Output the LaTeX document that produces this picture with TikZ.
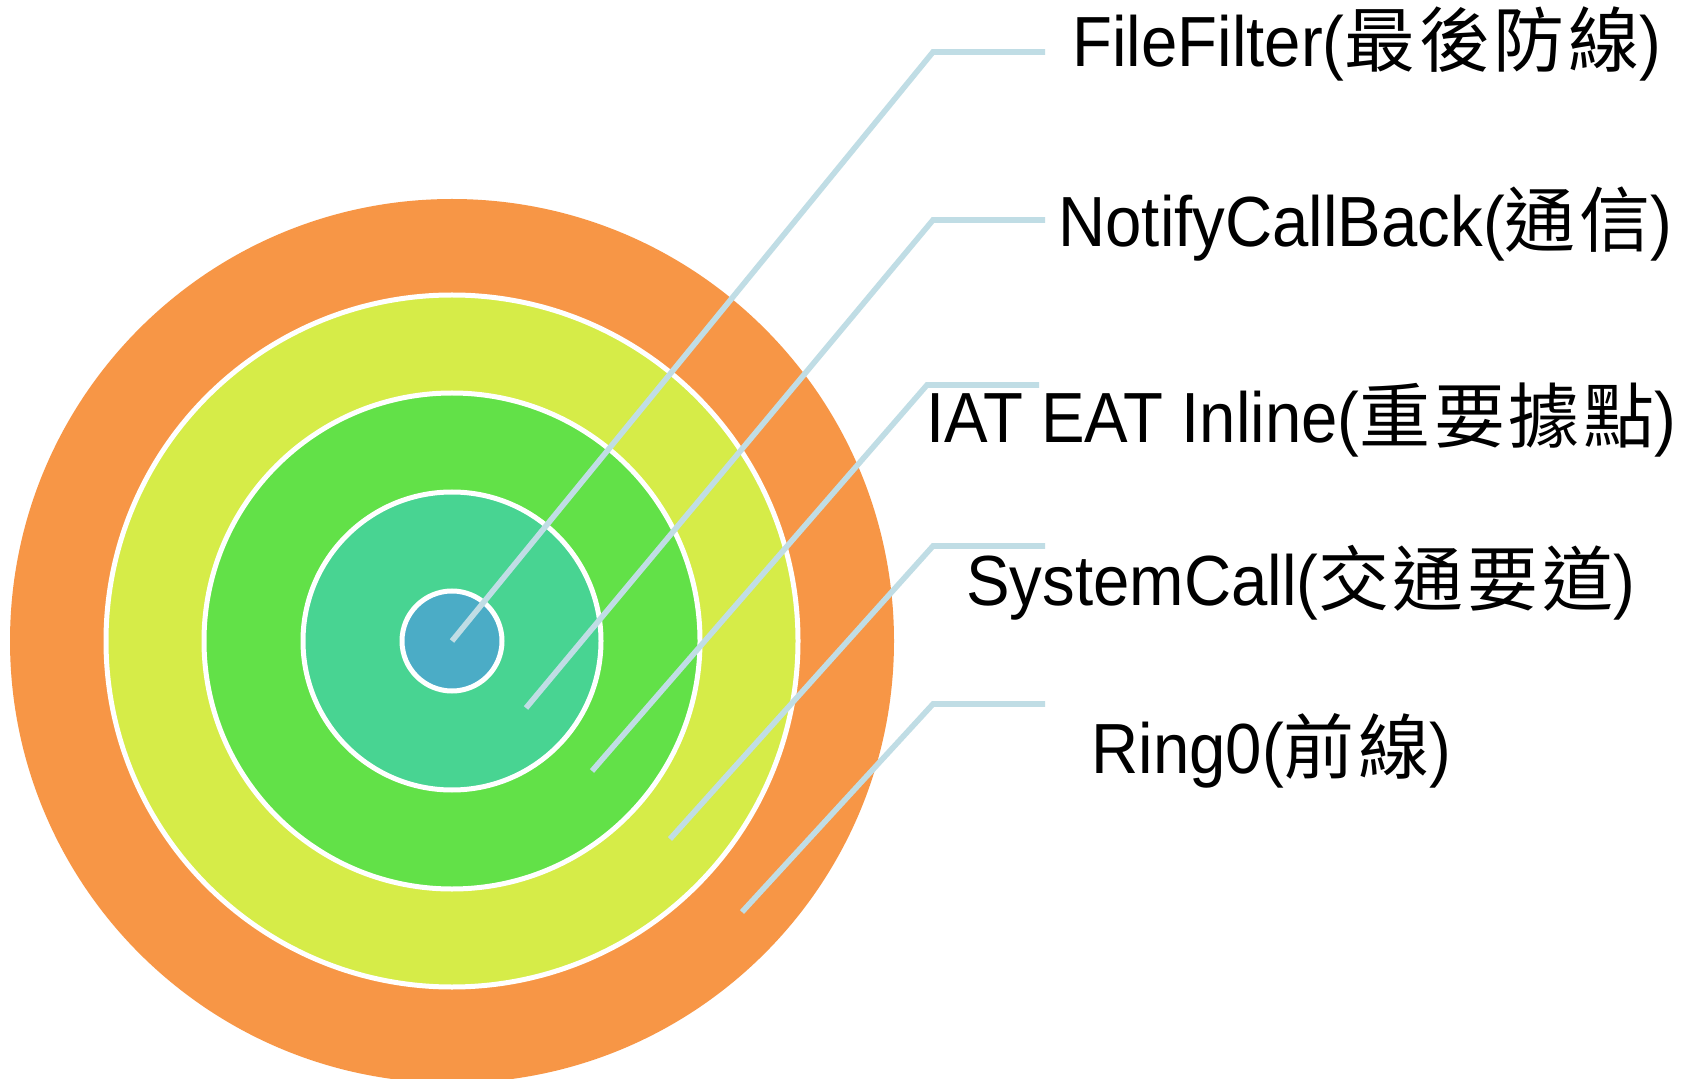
\documentclass[tikz,border=0pt]{standalone}
\usepackage{fontspec}
\setmainfont{Liberation Sans}[FakeStretch=0.92]
\newfontfamily\cjk{Noto Sans CJK TC}[LetterSpace=5]
\definecolor{ringO}{RGB}{247,150,70}
\definecolor{ringY}{RGB}{214,236,72}
\definecolor{ringG}{RGB}{98,225,72}
\definecolor{ringT}{RGB}{72,212,146}
\definecolor{ringB}{RGB}{75,172,198}
\definecolor{leader}{RGB}{192,221,229}
\tikzset{
  ring/.style={draw=white, line width=2.5pt},
  leaderline/.style={draw=leader, line width=2.8pt},
  label/.style={anchor=base west, inner sep=0pt, font=\fontsize{35.5}{40}\selectfont}
}
\begin{document}
\begin{tikzpicture}[x=0.5pt, y=-0.5pt]
  \useasboundingbox (0,0) rectangle (1702,1079);
  \clip (0,0) rectangle (1702,1079);
  \fill[white] (0,0) rectangle (1702,1079);
  % concentric rings
  \coordinate (c) at (452,641);
  \fill[ringO] (c) circle[radius=442];
  \filldraw[ring, fill=ringY] (c) circle[radius=346];
  \filldraw[ring, fill=ringG] (c) circle[radius=248];
  \filldraw[ring, fill=ringT] (c) circle[radius=149];
  \filldraw[ring, fill=ringB] (c) circle[radius=50];
  % leader lines: start inside a ring, bend, run out to the label
  \coordinate (p1) at (452,641);   \coordinate (e1) at (933,52);  \coordinate (q1) at (1045,52);
  \coordinate (p2) at (526,708);   \coordinate (e2) at (933,220); \coordinate (q2) at (1045,220);
  \coordinate (p3) at (592,771);   \coordinate (e3) at (927,385); \coordinate (q3) at (1039,385);
  \coordinate (p4) at (670,839);   \coordinate (e4) at (933,546); \coordinate (q4) at (1045,546);
  \coordinate (p5) at (742,912);   \coordinate (e5) at (933,704); \coordinate (q5) at (1045,704);
  \foreach \i in {1,...,5} \draw[leaderline] (p\i) -- (e\i) -- (q\i);
  % labels
  \node[label] (t1) at (1072,67)  {FileFilter({\cjk 最後防線})};
  \node[label] (t2) at (1058,247) {NotifyCallBack({\cjk 通信})};
  \node[label] (t3) at (926,443)  {IAT EAT Inline({\cjk 重要據點})};
  \node[label] (t4) at (966,605)  {SystemCall({\cjk 交通要道})};
  \node[label] (t5) at (1091,773) {Ring0({\cjk 前線})};
\end{tikzpicture}
\end{document}
